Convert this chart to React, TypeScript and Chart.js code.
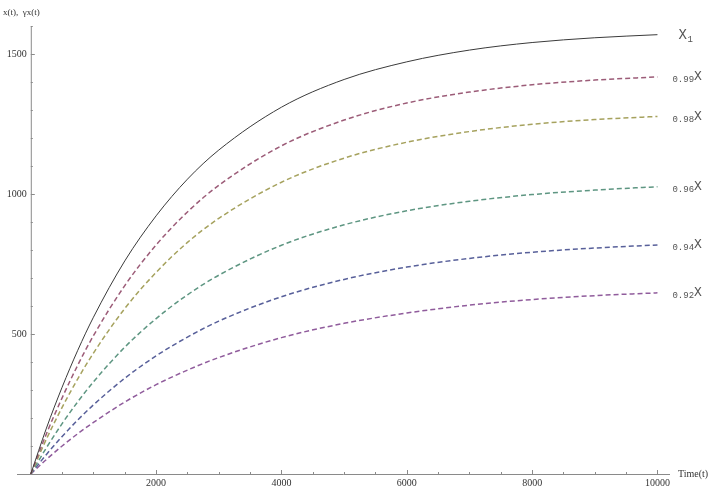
import { useEffect, useRef } from 'react';
import { Chart, registerables } from 'chart.js';

Chart.register(...registerables);

// Time points (t)
const times = [0, 250, 500, 750, 1000, 1500, 2000, 2500, 3000, 4000, 5000, 6000, 7000, 8000, 9000, 10000];
// Series values
const seriesX1 = [0, 164, 310, 442, 560, 761, 922, 1053, 1157, 1310, 1409, 1472, 1514, 1541, 1558, 1569];
const series099 = [0, 144, 272, 389, 494, 673, 818, 936, 1031, 1172, 1264, 1325, 1364, 1390, 1407, 1418];
const series098 = [0, 125, 238, 340, 432, 591, 720, 827, 913, 1042, 1128, 1185, 1223, 1249, 1266, 1277];
const series096 = [0, 94, 180, 258, 329, 453, 555, 640, 710, 817, 890, 940, 974, 998, 1014, 1026];
const series094 = [0, 70, 134, 193, 247, 342, 422, 489, 546, 633, 695, 739, 770, 792, 807, 818];
const series092 = [0, 52, 100, 144, 184, 257, 319, 371, 416, 487, 538, 575, 603, 623, 637, 647];

const seriesPrefixes = ['', '0.99', '0.98', '0.96', '0.94', '0.92'];
const seriesColors = ['#3a3a3a', '#9c5c78', '#a6a25e', '#5e9682', '#58609a', '#905c9c'];

// Axis ticks
const xMajorTicks = [2000, 4000, 6000, 8000, 10000];
const yMajorTicks = [500, 1000, 1500];
const xMinorStep = 500;
const yMinorStep = 100;
const xRange = [-220, 10200];
const yRange = [0, 1600];

const allSeries = [seriesX1, series099, series098, series096, series094, series092];

const axesPlugin = {
  id: 'mmaAxes',
  beforeDatasetsDraw(chart: any) {
    const ctx = chart.ctx;
    const xs = chart.scales.x;
    const ys = chart.scales.y;
    const x0 = xs.getPixelForValue(0);
    const y0 = ys.getPixelForValue(0);
    ctx.save();
    ctx.strokeStyle = '#8a8a8a';
    ctx.lineWidth = 1;
    // x axis
    ctx.beginPath();
    ctx.moveTo(xs.getPixelForValue(xRange[0]), y0 + 0.5);
    ctx.lineTo(xs.getPixelForValue(xRange[1]), y0 + 0.5);
    ctx.stroke();
    // y axis
    ctx.beginPath();
    ctx.moveTo(x0 + 0.5, ys.getPixelForValue(yRange[0]));
    ctx.lineTo(x0 + 0.5, ys.getPixelForValue(yRange[1]));
    ctx.stroke();
    // x ticks
    for (let t = xMinorStep; t <= xRange[1]; t += xMinorStep) {
      const px = Math.round(xs.getPixelForValue(t)) + 0.5;
      const major = xMajorTicks.includes(t);
      ctx.beginPath();
      ctx.moveTo(px, y0);
      ctx.lineTo(px, y0 - (major ? 4 : 2));
      ctx.stroke();
    }
    for (let v = yMinorStep; v <= yRange[1]; v += yMinorStep) {
      const py = Math.round(ys.getPixelForValue(v)) + 0.5;
      const major = yMajorTicks.includes(v);
      ctx.beginPath();
      ctx.moveTo(x0, py);
      ctx.lineTo(x0 + (major ? 4 : 2), py);
      ctx.stroke();
    }
    // tick labels
    ctx.fillStyle = '#333';
    ctx.font = '10px "Liberation Serif"';
    ctx.textAlign = 'center';
    ctx.textBaseline = 'middle';
    xMajorTicks.forEach((t) => {
      ctx.fillText(String(t), xs.getPixelForValue(t), y0 + 9);
    });
    ctx.textAlign = 'right';
    yMajorTicks.forEach((v) => {
      ctx.fillText(String(v), x0 - 4, ys.getPixelForValue(v));
    });
    // axis titles
    ctx.textAlign = 'left';
    ctx.font = '10px "Liberation Serif"';
    ctx.fillText('Time(t)', xs.getPixelForValue(xRange[1]) + 8, y0);
    ctx.font = '9px "Liberation Serif"';
    ctx.fillText('x(t),  \u03b3x(t)', 3, 13);
    ctx.restore();
  },
  afterDatasetsDraw(chart: any) {
    const ctx = chart.ctx;
    const xs = chart.scales.x;
    const ys = chart.scales.y;
    const xEnd = xs.getPixelForValue(times[times.length - 1]);
    ctx.save();
    ctx.fillStyle = '#555';
    ctx.textBaseline = 'middle';
    ctx.textAlign = 'left';
    allSeries.forEach((s, i) => {
      const py = ys.getPixelForValue(s[s.length - 1]);
      if (i === 0) {
        ctx.font = '14px "Liberation Mono"';
        ctx.fillText('X', xEnd + 21, py + 1);
        ctx.font = '9px "Liberation Mono"';
        ctx.fillText('1', xEnd + 30, py + 5);
      } else {
        ctx.font = '9px "Liberation Mono"';
        ctx.fillText(seriesPrefixes[i], xEnd + 15, py + 3);
        const w = ctx.measureText(seriesPrefixes[i]).width;
        ctx.font = '13px "Liberation Mono"';
        ctx.fillText('X', xEnd + 15 + w, py);
      }
    });
    ctx.restore();
  },
};

export default function App() {
  const ref = useRef<HTMLCanvasElement>(null);
  useEffect(() => {
    if (!ref.current) return;
    const datasets = allSeries.map((s, i) => ({
      label: i === 0 ? 'X1' : seriesPrefixes[i] + 'X',
      data: times.map((t, k) => ({ x: t, y: s[k] })),
      borderColor: seriesColors[i],
      borderWidth: i === 0 ? 1 : 1.5,
      borderDash: i === 0 ? [] : [5, 3],
      pointRadius: 0,
      cubicInterpolationMode: 'monotone' as const,
      fill: false,
    }));
    const chart = new Chart(ref.current, {
      type: 'line',
      data: { datasets },
      options: {
        animation: false,
        responsive: false,
        layout: { padding: { left: 17, right: 46, top: 26, bottom: 13 } },
        plugins: { legend: { display: false }, tooltip: { enabled: false } },
        scales: {
          x: { type: 'linear', min: xRange[0], max: xRange[1], display: false },
          y: { type: 'linear', min: yRange[0], max: yRange[1], display: false },
        },
      },
      plugins: [axesPlugin],
    });
    return () => chart.destroy();
  }, []);
  return (
    <div style={{ position: 'fixed', left: 0, top: 0, width: 716, height: 487, background: '#fff' }}>
      <canvas ref={ref} width={716} height={487} style={{ width: 716, height: 487 }} />
    </div>
  );
}
